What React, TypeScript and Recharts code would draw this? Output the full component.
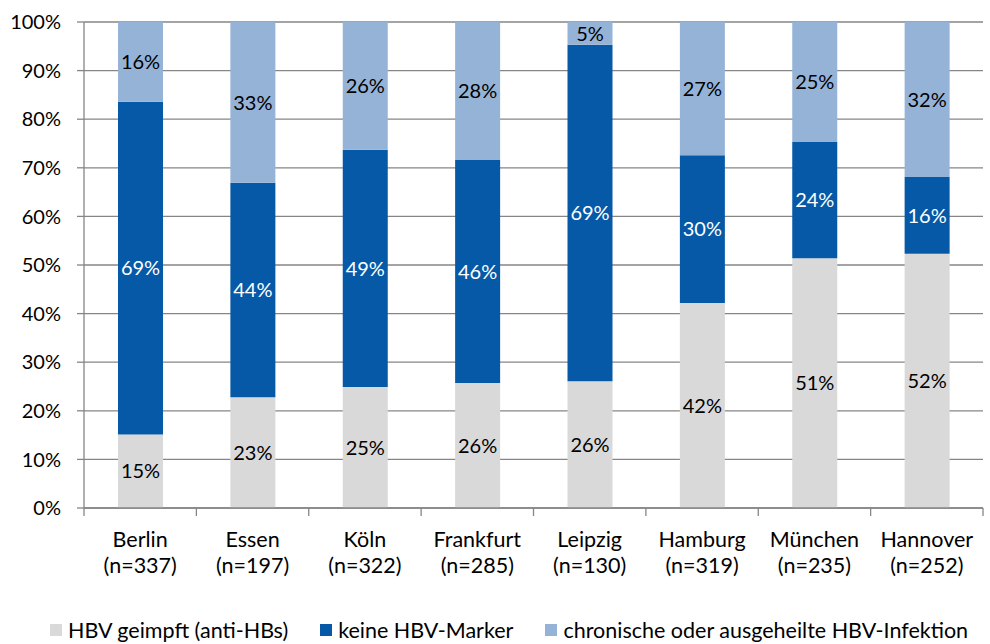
import {
  Bar,
  BarChart,
  CartesianGrid,
  LabelList,
  Legend,
  XAxis,
  YAxis,
} from "recharts";

const cities = ["Berlin", "Essen", "Köln", "Frankfurt", "Leipzig", "Hamburg", "München", "Hannover"];
const sampleSizes = [337, 197, 322, 285, 130, 319, 235, 252];
const vaccinated = [15.1, 22.8, 24.9, 25.7, 26.1, 42.2, 51.4, 52.3];
const noMarkers = [68.5, 44.1, 48.8, 45.9, 69.2, 30.4, 23.9, 15.8];
const infected = [16.4, 33.1, 26.3, 28.4, 4.7, 27.4, 24.7, 31.9];
const yTicks = [0, 10, 20, 30, 40, 50, 60, 70, 80, 90, 100];

const seriesNames = [
  "HBV geimpft (anti-HBs)",
  "keine HBV-Marker",
  "chronische oder ausgeheilte HBV-Infektion",
];
const colors = ["#D9D9D9", "#0559A7", "#95B3D7"];

const data = cities.map((city, i) => ({
  city,
  n: sampleSizes[i],
  vaccinated: vaccinated[i],
  noMarkers: noMarkers[i],
  infected: infected[i],
}));

const FONT = "Lato, 'Open Sans', sans-serif";
const AXIS = "#868686";

// category label in two lines + tick marks on the band edges
const CityTick = (props: any) => {
  const { x, y, payload, index, visibleTicksCount, width } = props;
  const i = cities.indexOf(payload.value);
  const half = payload.offset || (width && visibleTicksCount ? width / visibleTicksCount / 2 : 56);
  const last = index === visibleTicksCount - 1 || i === cities.length - 1;
  return (
    <g>
      <line x1={x - half} x2={x - half} y1={y} y2={y + 8} stroke={AXIS} strokeWidth={1.3} />
      {last && <line x1={x + half} x2={x + half} y1={y} y2={y + 8} stroke={AXIS} strokeWidth={1.3} />}
      <text x={x} y={y} textAnchor="middle" fontSize={21.5} fill="#000" fontFamily={FONT}>
        <tspan x={x} dy={39}>{payload.value}</tspan>
        <tspan x={x} dy={26}>{`(n=${sampleSizes[i]})`}</tspan>
      </text>
    </g>
  );
};

const LegendContent = () => (
  <div
    style={{
      display: "flex",
      alignItems: "center",
      paddingLeft: 50,
      gap: 32,
      fontFamily: FONT,
      fontSize: 21.5,
      color: "#000",
      height: 24,
      whiteSpace: "nowrap",
    }}
  >
    {seriesNames.map((name, i) => (
      <div key={name} style={{ display: "flex", alignItems: "center", gap: 6 }}>
        <span style={{ width: 12, height: 12, background: colors[i], display: "inline-block" }} />
        <span>{name}</span>
      </div>
    ))}
  </div>
);

const pct = (v: any) => `${Math.round(Number(v))}%`;

export default function App() {
  return (
    <div style={{ position: "fixed", left: 0, top: 0, background: "#fff" }}>
      <BarChart
        width={990}
        height={644}
        data={data}
        margin={{ top: 22, right: 7, left: 0, bottom: 32 }}
        barSize={45}
      >
        <CartesianGrid vertical={false} stroke={AXIS} strokeWidth={1.3} />
        <XAxis
          dataKey="city"
          height={80}
          axisLine={{ stroke: AXIS, strokeWidth: 1.3 }}
          tickLine={false}
          tickSize={0}
          tickMargin={0}
          interval={0}
          tick={<CityTick />}
        />
        <YAxis
          width={84}
          domain={[0, 100]}
          ticks={yTicks}
          tickFormatter={(v) => `${v}%`}
          tickSize={7}
          tickMargin={16}
          stroke={AXIS}
          axisLine={{ stroke: AXIS, strokeWidth: 1.3 }}
          tickLine={{ stroke: AXIS, strokeWidth: 1.3 }}
          tick={{ fill: "#000", fontSize: 20, fontFamily: FONT }}
          allowDataOverflow
        />
        <Legend verticalAlign="bottom" wrapperStyle={{ bottom: 2, left: 0 }} content={<LegendContent />} />
        <Bar dataKey="vaccinated" stackId="a" fill={colors[0]} isAnimationActive={false}>
          <LabelList dataKey="vaccinated" position="center" formatter={pct} fill="#000" fontSize={20} fontFamily={FONT} />
        </Bar>
        <Bar dataKey="noMarkers" stackId="a" fill={colors[1]} isAnimationActive={false}>
          <LabelList dataKey="noMarkers" position="center" formatter={pct} fill="#fff" fontSize={20} fontFamily={FONT} />
        </Bar>
        <Bar dataKey="infected" stackId="a" fill={colors[2]} isAnimationActive={false}>
          <LabelList dataKey="infected" position="center" formatter={pct} fill="#000" fontSize={20} fontFamily={FONT} />
        </Bar>
      </BarChart>
    </div>
  );
}
